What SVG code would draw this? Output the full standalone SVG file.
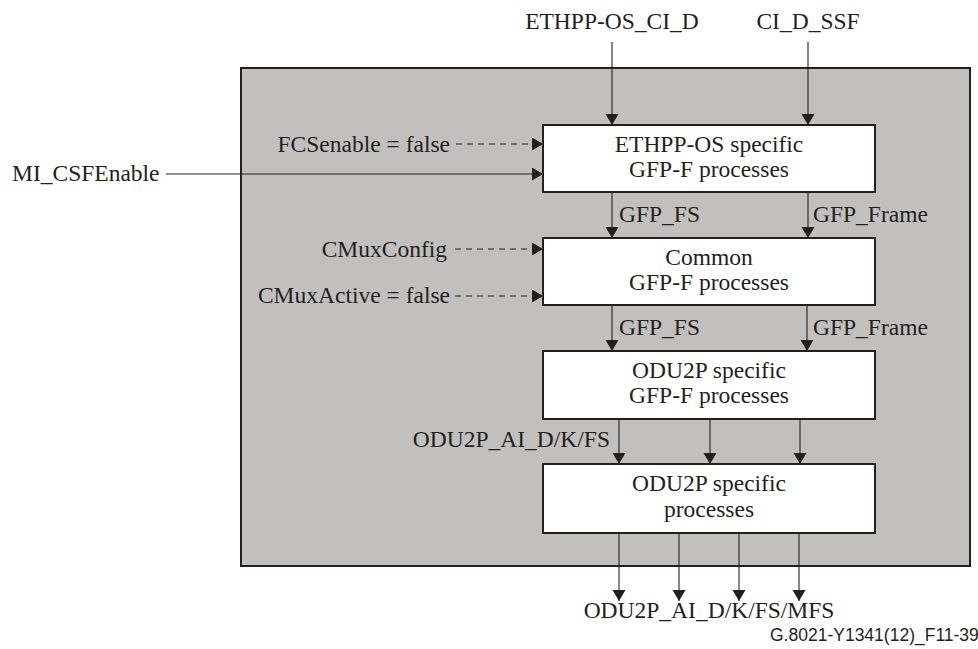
<svg xmlns="http://www.w3.org/2000/svg" width="978" height="649" viewBox="0 0 978 649">
<style>
text{font-family:"Liberation Serif","Times New Roman",serif;font-size:23.5px;fill:#231f20}
.c{text-anchor:middle}
.e{text-anchor:end}
.box{fill:#ffffff;stroke:#231f20;stroke-width:2}
.ln{stroke:#231f20;stroke-width:1.1;fill:none}
.dash{stroke:#231f20;stroke-width:1.1;fill:none;stroke-dasharray:6 5}
.foot{font-family:"Liberation Sans",Arial,sans-serif;font-size:17.5px}
</style>
<defs>
<marker id="ah" markerUnits="userSpaceOnUse" markerWidth="12" markerHeight="14" refX="11" refY="6.5" orient="auto">
<path d="M0,0 L11,6.5 L0,13 z" fill="#231f20"/>
</marker>
</defs>
<g id="container">
<rect x="241" y="68" width="729" height="498" fill="#c1c0be" stroke="#231f20" stroke-width="2"/>
</g>
<g id="node-ethpp">
<rect class="box" x="543" y="125" width="332" height="67"/>
<text class="c" x="709" y="151.5">ETHPP-OS specific</text>
<text class="c" x="709" y="177">GFP-F processes</text>
</g>
<g id="node-common">
<rect class="box" x="543" y="238" width="332" height="67"/>
<text class="c" x="709" y="264.5">Common</text>
<text class="c" x="709" y="290">GFP-F processes</text>
</g>
<g id="node-odu2p-gfp">
<rect class="box" x="543" y="351" width="332" height="68"/>
<text class="c" x="709" y="378">ODU2P specific</text>
<text class="c" x="709" y="403">GFP-F processes</text>
</g>
<g id="node-odu2p">
<rect class="box" x="543" y="464" width="332" height="69"/>
<text class="c" x="709" y="491">ODU2P specific</text>
<text class="c" x="709" y="517">processes</text>
</g>
<g id="labels">
<text class="c" x="612" y="29">ETHPP-OS_CI_D</text>
<text class="c" x="808" y="29">CI_D_SSF</text>
<text class="e" x="450" y="152">FCSenable = false</text>
<text x="12" y="181">MI_CSFEnable</text>
<text class="e" x="447" y="257">CMuxConfig</text>
<text class="e" x="450" y="303">CMuxActive = false</text>
<text x="619" y="222">GFP_FS</text>
<text x="813" y="222">GFP_Frame</text>
<text x="619" y="335">GFP_FS</text>
<text x="813" y="335">GFP_Frame</text>
<text class="e" x="610" y="447">ODU2P_AI_D/K/FS</text>
<text class="c" x="709" y="618">ODU2P_AI_D/K/FS/MFS</text>
<text class="foot" x="770" y="641">G.8021-Y1341(12)_F11-39</text>
</g>
<g id="connectors">
<line class="ln" x1="612" y1="42" x2="612" y2="125" marker-end="url(#ah)"/>
<line class="ln" x1="808" y1="42" x2="808" y2="125" marker-end="url(#ah)"/>
<line class="dash" x1="456" y1="144" x2="543" y2="144" marker-end="url(#ah)"/>
<line class="ln" x1="166" y1="174" x2="543" y2="174" marker-end="url(#ah)"/>
<line class="ln" x1="612" y1="192" x2="612" y2="238" marker-end="url(#ah)"/>
<line class="ln" x1="808" y1="192" x2="808" y2="238" marker-end="url(#ah)"/>
<line class="dash" x1="455" y1="249" x2="543" y2="249" marker-end="url(#ah)"/>
<line class="dash" x1="455" y1="296" x2="543" y2="296" marker-end="url(#ah)"/>
<line class="ln" x1="612" y1="305" x2="612" y2="351" marker-end="url(#ah)"/>
<line class="ln" x1="807" y1="305" x2="807" y2="351" marker-end="url(#ah)"/>
<line class="ln" x1="619" y1="419" x2="619" y2="464" marker-end="url(#ah)"/>
<line class="ln" x1="710" y1="419" x2="710" y2="464" marker-end="url(#ah)"/>
<line class="ln" x1="800" y1="419" x2="800" y2="464" marker-end="url(#ah)"/>
<line class="ln" x1="619" y1="533" x2="619" y2="601" marker-end="url(#ah)"/>
<line class="ln" x1="679" y1="533" x2="679" y2="601" marker-end="url(#ah)"/>
<line class="ln" x1="739" y1="533" x2="739" y2="601" marker-end="url(#ah)"/>
<line class="ln" x1="799" y1="533" x2="799" y2="601" marker-end="url(#ah)"/>
</g>
</svg>
